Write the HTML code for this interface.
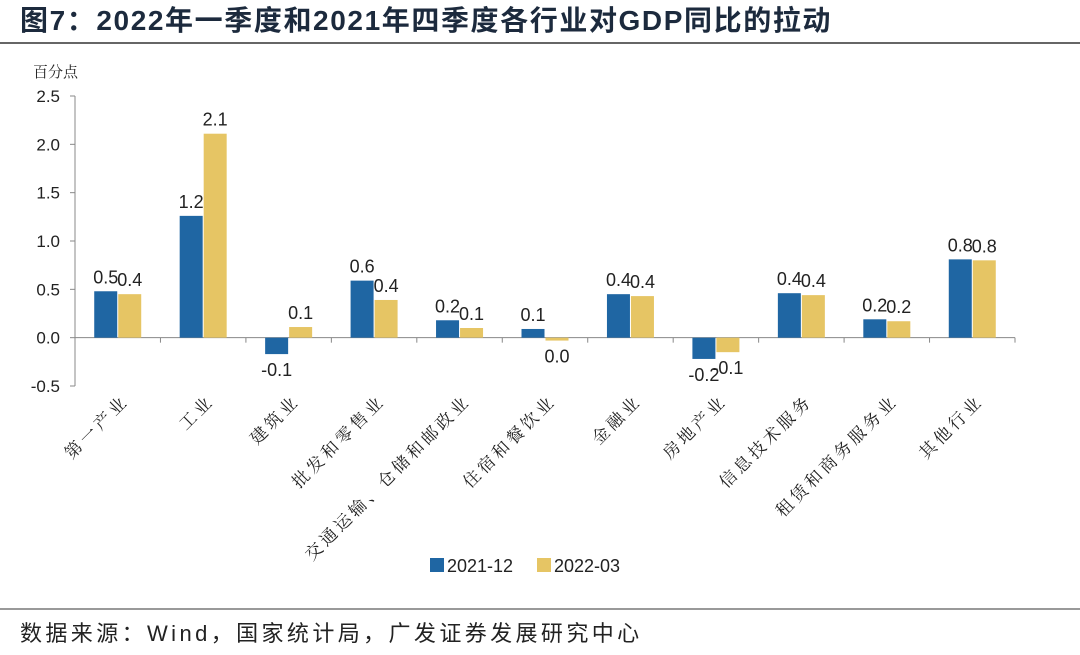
<!DOCTYPE html>
<html><head><meta charset="utf-8"><style>
body{margin:0;background:#fff;width:1080px;height:650px;overflow:hidden;font-family:"Liberation Sans","Noto Sans CJK SC",sans-serif}
</style></head><body>
<svg width="1080" height="650" xmlns="http://www.w3.org/2000/svg">
<text x="20" y="30" font-size="28" font-weight="bold" fill="#1c2a3d" letter-spacing="1.6" font-family="Liberation Sans, Noto Sans CJK SC, sans-serif">图7：2022年一季度和2021年四季度各行业对GDP同比的拉动</text>
<line x1="0" y1="43" x2="1080" y2="43" stroke="#333" stroke-width="1.5"/>
<text x="33" y="77" font-size="15" fill="#222" font-family="Noto Serif CJK SC, serif">百分点</text>
<g id="plot"></g>
<g>
<rect x="430" y="558" width="14" height="14" fill="#1f66a3"/>
<text x="447" y="572" font-size="18" fill="#222">2021-12</text>
<rect x="537" y="558" width="14" height="14" fill="#e6c564"/>
<text x="554" y="572" font-size="18" fill="#222">2022-03</text>
</g>
<line x1="0" y1="609" x2="1080" y2="609" stroke="#333" stroke-width="1"/>
<text x="20" y="641" font-size="22" fill="#222" letter-spacing="3.4" font-family="Liberation Sans, Noto Sans CJK SC, sans-serif">数据来源：Wind，国家统计局，广发证券发展研究中心</text>
</svg>
<script>
const categories=["第一产业","工业","建筑业","批发和零售业","交通运输、仓储和邮政业","住宿和餐饮业","金融业","房地产业","信息技术服务","租赁和商务服务业","其他行业"];
const series2021=[0.48,1.26,-0.17,0.59,0.18,0.09,0.45,-0.22,0.46,0.19,0.81];
const series2022=[0.45,2.11,0.11,0.39,0.10,-0.03,0.43,-0.15,0.44,0.17,0.80];
const labels2021=["0.5","1.2","-0.1","0.6","0.2","0.1","0.4","-0.2","0.4","0.2","0.8"];
const labels2022=["0.4","2.1","0.1","0.4","0.1","0.0","0.4","-0.1","0.4","0.2","0.8"];
const yTicks=[2.5,2.0,1.5,1.0,0.5,0.0,-0.5];
const yTickLabels=["2.5","2.0","1.5","1.0","0.5","0.0","-0.5"];
const NS="http://www.w3.org/2000/svg";
const g=document.getElementById('plot');
const x0=75,x1=1015,yMax=2.5,yMin=-0.5,yTop=96,yBot=386;
const y=v=>yTop+(yMax-v)/(yMax-yMin)*(yBot-yTop);
const band=(x1-x0)/categories.length;
const cx=i=>x0+band*(i+0.5);
function el(t,a){const e=document.createElementNS(NS,t);for(const k in a)e.setAttribute(k,a[k]);g.appendChild(e);return e;}
let ax=el('line',{x1:x0,y1:yTop,x2:x0,y2:yBot,stroke:'#888'});


yTicks.forEach((v,i)=>{
 const t=el('line',{x1:x0-5,y1:y(v),x2:x0,y2:y(v),stroke:'#888'});
 
 
 const l=el('text',{x:x0-15,y:y(v)+6,'font-size':17,fill:'#222','text-anchor':'end'});
 l.textContent=yTickLabels[i];
 
 
});
let zl=el('line',{x1:x0,y1:y(0),x2:x1,y2:y(0),stroke:'#888'});


const bw=23;
categories.forEach((c,i)=>{
 const tk=el('line',{x1:x0+band*(i+1),y1:y(0),x2:x0+band*(i+1),y2:y(0)+5,stroke:'#888'});
 
 
 [[series2021,labels2021,'#1f66a3',-bw-0.5,'2021'],[series2022,labels2022,'#e6c564',0.5,'2022']].forEach(([s,lb,col,off,nm])=>{
  const v=s[i];const top=Math.min(y(v),y(0));const h=Math.abs(y(v)-y(0));
  const r=el('rect',{x:cx(i)+off,y:top,width:bw,height:Math.max(h,1),fill:col});
  
  
  const ty=v>=0?y(v)-8:y(v)+22;
  const t=el('text',{x:cx(i)+off+bw/2,y:ty,'font-size':18,fill:'#222','text-anchor':'middle'});
  t.textContent=lb[i];
  
  
 });
 const tx=cx(i)+12,ty=402;
 const cl=el('text',{x:tx,y:ty,'font-size':17,fill:'#222','text-anchor':'end','letter-spacing':3.5,'font-family':'Noto Serif CJK SC, serif',transform:`rotate(-45 ${tx} ${ty})`});
 cl.textContent=c;
 
 
});
</script>
</body></html>
